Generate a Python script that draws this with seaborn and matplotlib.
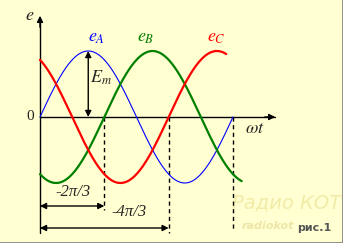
import numpy as np
import pandas as pd
import matplotlib
matplotlib.use("Agg")
import matplotlib.pyplot as plt
import seaborn as sns

# ---- chart values ----
series_names = ["e_A", "e_B", "e_C"]
series_colors = ["#0000FF", "#008000", "#FF0000"]
phase_shift = [0.0, -2 * np.pi / 3, -4 * np.pi / 3]   # radians
amplitude = [1.0, 1.0, 1.0]                          # E_m
t_start = [0.0, 0.0, 0.0]                            # in units of pi
t_end = [2.0, 2.09, 1.93]                            # in units of pi
dash_marks = [2 / 3, 4 / 3, 2.0]                     # dashed verticals (units of pi)
arrow_labels = ["-2\u03c0/3", "-4\u03c0/3"]

# ---- pixel geometry helpers ----
W, H = 343, 243
X0, Y0, PER, AMP = 40, 117, 193, 66


def X(px):
    return (px - X0) / PER * 2 * np.pi


def Y(py):
    return (Y0 - py) / AMP


rows = []
for name, ph, a, s, e in zip(series_names, phase_shift, amplitude, t_start, t_end):
    th = np.linspace(s * np.pi, e * np.pi, 300)
    rows.append(pd.DataFrame({"theta": th, "e": a * np.sin(th + ph), "series": name}))
df = pd.concat(rows, ignore_index=True)

sns.set_style("white")
plt.rcParams["mathtext.fontset"] = "stix"
bg = "#FFFFD2"
fig = plt.figure(figsize=(W / 100, H / 100), dpi=100, facecolor=bg)
ax = fig.add_axes([0, 0, 1, 1])
ax.set_facecolor(bg)
ax.set_xlim(X(0), X(W))
ax.set_ylim(Y(H), Y(0))
ax.axis("off")

# watermark
wm = ax.text(X(287), Y(203), "Радио КОТ", fontsize=14, color="#F2EBA8", ha="center",
             va="center", family="DejaVu Sans", fontstyle="italic", zorder=0)
ax.text(X(268), Y(226), "radiokot", fontsize=8, color="#EDE6A6", ha="center",
        va="center", family="DejaVu Sans", fontweight="bold", fontstyle="italic", zorder=0)

# axes
ax.plot([X(40), X(275)], [0, 0], color="black", lw=1, zorder=2)
ax.plot([X(40), X(40)], [Y(233), Y(20)], color="black", lw=1, zorder=2)
ax.annotate("", xy=(X(278), 0), xytext=(X(262), 0),
            arrowprops=dict(arrowstyle="-|>", color="black", lw=1, mutation_scale=9))
ax.annotate("", xy=(0, Y(13)), xytext=(0, Y(30)),
            arrowprops=dict(arrowstyle="-|>", color="black", lw=1, mutation_scale=9))

# curves
widths = {"e_A": 0.8, "e_B": 1.6, "e_C": 1.6}
pal = dict(zip(series_names, series_colors))
for name in series_names:
    sub = df[df.series == name]
    sns.lineplot(data=sub, x="theta", y="e", color=pal[name], lw=widths[name],
                 ax=ax, sort=False, zorder=3, legend=False)

# dashed verticals
bottoms = [210, 233, 230]
for m, b in zip(dash_marks, bottoms):
    ax.plot([m * np.pi, m * np.pi], [0, Y(b)], color="black", lw=1,
            ls=(0, (3, 2.5)), zorder=2)

# Em arrow
ax.annotate("", xy=(np.pi / 2, 1.0), xytext=(np.pi / 2, 0),
            arrowprops=dict(arrowstyle="<|-|>", color="black", lw=1, mutation_scale=9,
                            shrinkA=0, shrinkB=0))
# phase arrows
ax.annotate("", xy=(0, Y(206)), xytext=(dash_marks[0] * np.pi, Y(206)),
            arrowprops=dict(arrowstyle="<|-|>", color="black", lw=1, mutation_scale=9,
                            shrinkA=0, shrinkB=0))
ax.annotate("", xy=(0, Y(228)), xytext=(dash_marks[1] * np.pi, Y(228)),
            arrowprops=dict(arrowstyle="<|-|>", color="black", lw=1, mutation_scale=9,
                            shrinkA=0, shrinkB=0))

serif = "Liberation Serif"
ax.text(X(30), Y(15), "$e$", fontsize=13, ha="center", va="center")
ax.text(X(30), Y(116), "0", fontsize=11, ha="center", va="center", family=serif)
ax.text(X(97), Y(37), "$e_A$", fontsize=13, color=series_colors[0], ha="center", va="center")
ax.text(X(146), Y(37), "$e_B$", fontsize=13, color=series_colors[1], ha="center", va="center")
ax.text(X(216), Y(37), "$e_C$", fontsize=13, color=series_colors[2], ha="center", va="center")
ax.text(X(101), Y(78), "$E_m$", fontsize=13, ha="center", va="center")
ax.text(X(255), Y(128), "$\\omega t$", fontsize=13, ha="center", va="center")
ax.text(X(73), Y(192), arrow_labels[0], fontsize=12, ha="center", va="center",
        family=serif, fontstyle="italic")
ax.text(X(129), Y(212), arrow_labels[1], fontsize=12, ha="center", va="center",
        family=serif, fontstyle="italic")
ax.text(X(314), Y(228), "рис.1", fontsize=8, ha="center", va="center",
        family="DejaVu Sans", fontweight="bold", color="#555555")

# gray border right & bottom
ax.plot([X(342.5), X(342.5)], [Y(0), Y(243)], color="#808080", lw=1.2, clip_on=False)
ax.plot([X(0), X(343)], [Y(242.5), Y(242.5)], color="#808080", lw=1.2, clip_on=False)

fig.savefig("out.png", dpi=100, facecolor=bg)
